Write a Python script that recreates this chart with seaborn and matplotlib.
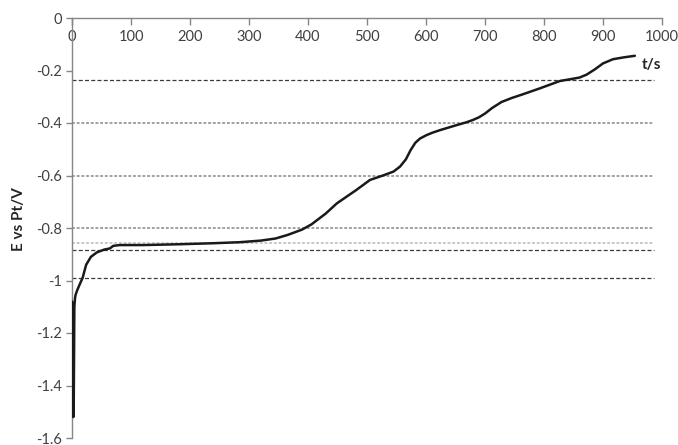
import numpy as np
import pandas as pd
import matplotlib
matplotlib.use("Agg")
import matplotlib.pyplot as plt
import seaborn as sns

# Potential transient: time (s) and electrode potential vs Pt (V)
time_s = [0, 1, 1.5, 2, 2.5, 3, 4, 5, 6, 9, 14, 18, 24, 32, 42, 55, 64, 70, 81,
          120, 180, 240, 285, 320, 345, 366, 390, 406, 430, 449, 482, 505, 527,
          545, 556, 566, 574, 582, 590, 601, 612, 624, 652, 669, 680, 690, 700,
          712, 728, 745, 765, 793, 810, 827, 845, 860, 872, 886, 900, 917, 935,
          954]
potential_v = [-1.08, -1.09, -1.30, -1.52, -1.52, -1.45, -1.10, -1.07, -1.055,
               -1.036, -1.01, -0.99, -0.94, -0.91, -0.893, -0.882, -0.878,
               -0.868, -0.865, -0.865, -0.862, -0.858, -0.854, -0.848, -0.840,
               -0.826, -0.806, -0.786, -0.745, -0.706, -0.655, -0.617, -0.600,
               -0.585, -0.566, -0.538, -0.503, -0.475, -0.459, -0.446, -0.436,
               -0.427, -0.408, -0.397, -0.388, -0.378, -0.364, -0.343, -0.320,
               -0.305, -0.290, -0.268, -0.254, -0.240, -0.233, -0.227, -0.216,
               -0.196, -0.173, -0.157, -0.150, -0.144]

# Reference levels drawn across the plot
dark_levels = [-0.236, -0.885, -0.99]
grey_levels = [-0.4, -0.6, -0.8]
light_levels = [-0.858]

x_ticks = [0, 100, 200, 300, 400, 500, 600, 700, 800, 900, 1000]
y_ticks = [0, -0.2, -0.4, -0.6, -0.8, -1.0, -1.2, -1.4, -1.6]
y_tick_labels = ["0", "-0.2", "-0.4", "-0.6", "-0.8", "-1", "-1.2", "-1.4", "-1.6"]

sns.set_theme(style="white")
plt.rcParams["font.family"] = ["Lato", "DejaVu Sans"]

df = pd.DataFrame({"t": time_s, "E": potential_v})

fig = plt.figure(figsize=(6.78, 4.45), dpi=100)
ax = fig.add_axes([72 / 678, 1 - 438 / 445, 590 / 678, 420 / 445])

axis_col = "#868686"
line_end = 654  # right end of the reference lines, in pixels
x_end = (line_end - 72) / 590 * 1000

for lv in dark_levels:
    ax.plot([0, x_end], [lv, lv], color="#3a3a3a", lw=0.9,
            dashes=(3.2, 1.8), zorder=1)
for lv in grey_levels:
    ax.plot([0, x_end], [lv, lv], color="#9a9a9a", lw=1.3,
            dashes=(1.6, 1.0), zorder=1)
for lv in light_levels:
    ax.plot([0, x_end], [lv, lv], color="#c4c4c4", lw=1.3,
            dashes=(1.6, 1.0), zorder=1)

sns.lineplot(data=df, x="t", y="E", ax=ax, color="#1a1a1a", lw=1.8,
             sort=False, estimator=None, zorder=3)

ax.set_xlim(0, 1000)
ax.set_ylim(-1.6, 0)

# Horizontal axis sits at the top (E = 0), labels hang just below it
ax.spines["bottom"].set_visible(False)
ax.spines["right"].set_visible(False)
ax.spines["top"].set_visible(True)
for s in ("top", "left"):
    ax.spines[s].set_color(axis_col)
    ax.spines[s].set_linewidth(1.0)

ax.xaxis.set_ticks_position("top")
ax.set_xticks(x_ticks)
ax.set_xticklabels([str(v) for v in x_ticks])
ax.tick_params(axis="x", which="both", direction="in", length=5, width=1,
               color=axis_col, labeltop=True, labelbottom=False,
               labelsize=10.5, labelcolor="#404040", pad=-19)

ax.set_yticks(y_ticks)
ax.set_yticklabels(y_tick_labels)
ax.tick_params(axis="y", direction="out", length=4, width=1,
               color=axis_col, labelsize=10.5, labelcolor="#404040", pad=3,
               left=True)

ax.set_xlabel("")
ax.set_ylabel("")
fig.text(651 / 678, 1 - 65 / 445, "t/s", ha="center", va="center",
         fontsize=11, fontweight="bold", color="#262626")
fig.text(19 / 678, 1 - 219 / 445, "E vs Pt/V", ha="center", va="center",
         rotation=90, fontsize=11, fontweight="bold", color="#262626")

ax.grid(False)
fig.savefig("out.png", dpi=100)
